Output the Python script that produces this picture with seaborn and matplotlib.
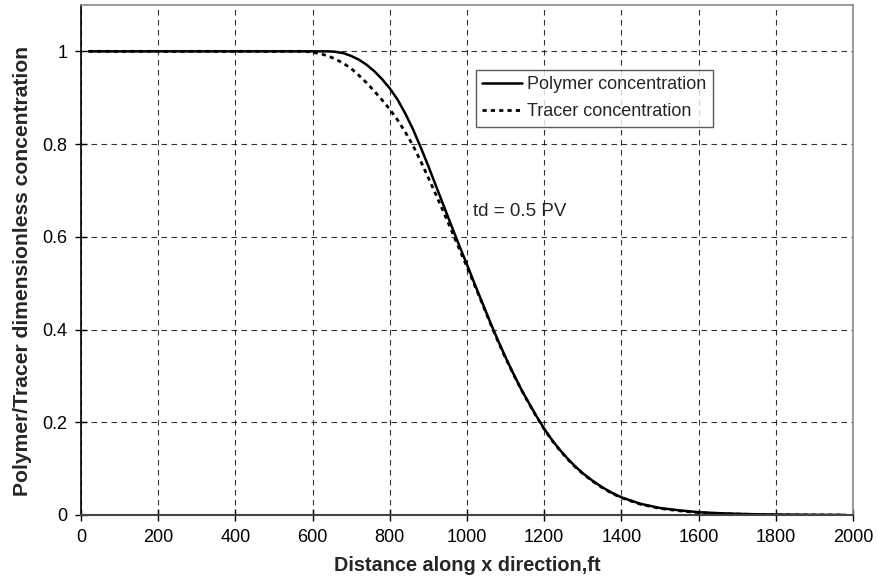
import numpy as np
import pandas as pd
import seaborn as sns
import matplotlib.pyplot as plt

# values
distance = [20, 100, 200, 300, 400, 500, 580, 600, 620, 640, 660, 680, 700, 720, 740, 760,
            780, 800, 820, 840, 860, 880, 900, 920, 940, 960, 980, 1000, 1020, 1040, 1060,
            1080, 1100, 1120, 1140, 1160, 1180, 1200, 1220, 1240, 1260, 1280, 1300, 1325,
            1350, 1375, 1400, 1450, 1500, 1550, 1600, 1650, 1700, 1750, 1800, 1900, 1980]
polymer = [1.0, 1.0, 1.0, 1.0, 1.0, 1.0, 1.0, 1.0, 1.0, 1.0, 0.999, 0.996, 0.99, 0.982,
           0.971, 0.957, 0.94, 0.92, 0.896, 0.866, 0.832, 0.793, 0.752, 0.709, 0.666, 0.623,
           0.581, 0.54, 0.498, 0.457, 0.416, 0.377, 0.34, 0.305, 0.272, 0.242, 0.213, 0.186,
           0.162, 0.141, 0.122, 0.105, 0.09, 0.074, 0.06, 0.048, 0.038, 0.024, 0.015, 0.01,
           0.006, 0.004, 0.0025, 0.0015, 0.001, 0.0003, 0.0]
tracer = [1.0, 1.0, 1.0, 1.0, 1.0, 1.0, 1.0, 0.998, 0.995, 0.99, 0.983, 0.974, 0.963, 0.948,
          0.932, 0.914, 0.895, 0.875, 0.852, 0.826, 0.797, 0.763, 0.727, 0.69, 0.652, 0.613,
          0.574, 0.535, 0.495, 0.455, 0.414, 0.375, 0.338, 0.304, 0.271, 0.241, 0.212, 0.185,
          0.161, 0.14, 0.121, 0.104, 0.089, 0.073, 0.059, 0.047, 0.037, 0.023, 0.014, 0.009,
          0.005, 0.003, 0.002, 0.001, 0.0005, 0.0, 0.0]

df = pd.DataFrame({'distance': distance, 'Polymer concentration': polymer,
                   'Tracer concentration': tracer})

sns.set_style('white')
plt.rcParams['font.family'] = ['Liberation Sans', 'DejaVu Sans']

fig = plt.figure(figsize=(8.78, 5.86), dpi=100)
ax = fig.add_axes([0.0923, 0.1212, 0.8792, 0.8703])

sns.lineplot(data=df, x='distance', y='Polymer concentration', ax=ax, color='black',
             linewidth=1.8, label='Polymer concentration')
sns.lineplot(data=df, x='distance', y='Tracer concentration', ax=ax, color='black',
             linewidth=2.0, linestyle=(0, (1.5, 1.5)), label='Tracer concentration')

ax.set_xlim(0, 2000)
ax.set_ylim(0, 1.1)
ax.set_xticks(np.arange(0, 2001, 200))
ax.set_yticks([0, 0.2, 0.4, 0.6, 0.8, 1.0])
ax.set_yticklabels(['0', '0.2', '0.4', '0.6', '0.8', '1'])
ax.grid(True, color='black', linestyle=(0, (5, 4)), linewidth=0.8, alpha=0.8)
ax.tick_params(axis='both', direction='inout', length=8, width=1, labelsize=13,
               colors='black', left=True, bottom=True, pad=6)

for side in ['top', 'right']:
    ax.spines[side].set_color('#888888')
    ax.spines[side].set_linewidth(1.2)
ax.spines['left'].set_color('black')
ax.spines['bottom'].set_color('#444444')
ax.spines['left'].set_linewidth(1.2)
ax.spines['bottom'].set_linewidth(1.5)

ax.set_xlabel('Distance along x direction,ft', fontsize=14.3, fontweight='bold', labelpad=7)
ax.set_ylabel('Polymer/Tracer dimensionless concentration', fontsize=15.2,
              fontweight='bold')
ax.yaxis.set_label_coords(-0.064, 0.478)

ax.text(1015, 0.654, 'td = 0.5 PV', fontsize=13.5, va='center', ha='left')

leg = ax.legend(loc='upper left', bbox_to_anchor=(0.5117, 0.8725), fontsize=13,
                frameon=True, fancybox=False, handlelength=2.2, handletextpad=0.3,
                borderpad=0.35, labelspacing=0.55, borderaxespad=0)
leg.get_frame().set_edgecolor('#333333')
leg.get_frame().set_linewidth(1.0)

fig.savefig('out.png', dpi=100)
